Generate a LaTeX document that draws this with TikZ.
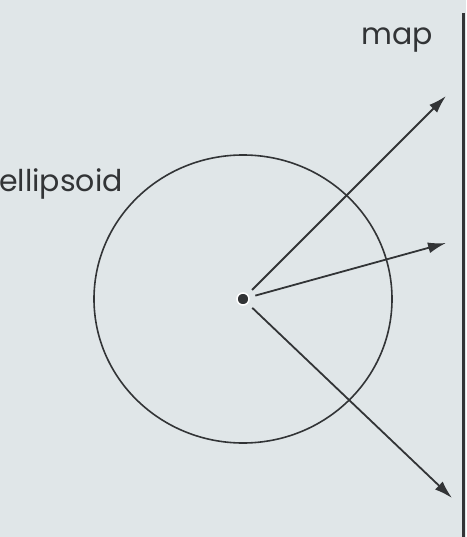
\documentclass[tikz,border=0pt]{standalone}
\usepackage{fontspec}
\setmainfont{Poppins}
\usetikzlibrary{arrows.meta}
\definecolor{paper}{RGB}{224,230,232}
\definecolor{ink}{RGB}{50,52,54}
\tikzset{
  ray/.style={draw=ink, line width=1.8pt, shorten <=6pt, -{Latex[length=18pt,width=11pt]}},
  lbl/.style={text=ink, font=\fontsize{30}{34}\selectfont, inner sep=0pt, anchor=base west},
  dotnode/.style={circle, fill=ink, draw=white, line width=1.5pt, minimum size=12pt, inner sep=0pt}
}
\begin{document}
\begin{tikzpicture}[x=1pt,y=-1pt]
\fill[paper] (0,0) rectangle (466,537);
\useasboundingbox (0,0) rectangle (466,537);
\draw[ink, line width=1.6pt] (243,299) ellipse [x radius=149, y radius=144];
\node[dotnode] (c) at (243,299) {};
\coordinate (e1) at (446,96);
\coordinate (e2) at (446,243);
\coordinate (e3) at (452,498);
\draw[ray] (c) -- (e1);
\draw[ray] (c) -- (e2);
\draw[ray] (c) -- (e3);
\draw[ink, line width=3pt] (463,13) -- (463,537);
\node[lbl] (map) at (361,45) {map};
\node[lbl] (ell) at (-1,192) {ellipsoid};
\end{tikzpicture}
\end{document}
